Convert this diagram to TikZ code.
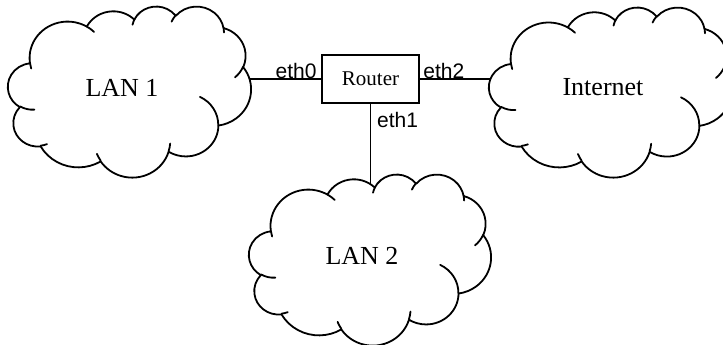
\documentclass[tikz,border=0pt]{standalone}
\usepackage{tikz}
\usepackage{fontspec}
\setmainfont{Liberation Serif}
\newfontfamily\arialf{Liberation Sans}

% convert DrawingML visual angles (y down) to parametric angles
\newcommand\prepArc[5]{%
  \pgfmathsetmacro\tmpa{atan2(#2*sin(#4),#3*cos(#4))}%
  \pgfmathsetmacro\tmpb{atan2(#2*sin(#4+#5),#3*cos(#4+#5))}%
  \pgfmathsetmacro\tmpd{mod(\tmpb-(\tmpa)+720,360)}%
  \expandafter\xdef\csname arcS#1\endcsname{\tmpa}%
  \expandafter\xdef\csname arcD#1\endcsname{\tmpd}%
}
\prepArc{A}{6.753}{9.190}{-190.48748}{123.78053}
\prepArc{B}{5.333}{7.267}{-144.10238}{89.94523}
\prepArc{C}{4.365}{5.945}{-145.80792}{99.72302}
\prepArc{D}{4.857}{6.595}{-130.98607}{117.24173}
\prepArc{E}{5.333}{7.273}{-78.70888}{109.02692}
\prepArc{F}{6.775}{9.220}{-46.26725}{130.26900}
\prepArc{G}{5.785}{7.867}{0.62502}{114.03333}
\prepArc{H}{6.752}{9.215}{22.45160}{115.17255}
\prepArc{I}{7.720}{10.543}{66.24263}{75.71102}
\prepArc{J}{4.360}{5.918}{-274.94208}{146.73557}
\prepArc{K}{4.345}{5.945}{-246.82850}{152.51885}
\prepArc{a}{4.345}{5.945}{86.74200}{26.42950}
\prepArc{b}{4.360}{5.918}{73.61047}{11.44747}
\prepArc{c}{6.752}{9.215}{137.62415}{14.08110}
\prepArc{d}{6.752}{9.215}{6.45327}{15.99835}
\prepArc{e}{5.785}{7.867}{-70.29235}{70.91737}
\prepArc{f}{5.333}{7.273}{30.31803}{27.75150}
\prepArc{g}{4.857}{6.595}{-13.74433}{14.85890}
\prepArc{h}{4.857}{6.595}{-149.18145}{18.19537}
\prepArc{i}{4.365}{5.945}{-163.49427}{17.68635}
\prepArc{j}{6.753}{9.190}{-66.70695}{12.31935}
\prepArc{k}{6.753}{9.190}{157.65435}{11.85817}

\tikzset{
  cloudline/.style={line width=1.8pt, line join=round, line cap=round},
  conn/.style={line width=1.8pt},
  routerbox/.style={draw, line width=1.8pt, minimum width=97pt, minimum height=48pt,
    inner sep=0pt, font=\fontsize{21}{21}\selectfont},
  ethlabel/.style={inner sep=0pt, font=\arialf\fontsize{21}{21}\selectfont},
  cloudlabel/.style={inner sep=0pt, font=\fontsize{26}{26}\selectfont},
}

% #1 left, #2 top (image coords, y down), #3 width, #4 height
\newcommand\drawcloud[4]{%
  \begin{scope}[shift={(#1,-#2)}, xscale=#3/43.2, yscale=-#4/43.2]
    \filldraw[cloudline, fill=white]
      (3.9,14.37)
      arc[start angle=\arcSA, delta angle=\arcDA, x radius=6.753pt, y radius=9.19pt]
      arc[start angle=\arcSB, delta angle=\arcDB, x radius=5.333pt, y radius=7.267pt]
      arc[start angle=\arcSC, delta angle=\arcDC, x radius=4.365pt, y radius=5.945pt]
      arc[start angle=\arcSD, delta angle=\arcDD, x radius=4.857pt, y radius=6.595pt]
      arc[start angle=\arcSE, delta angle=\arcDE, x radius=5.333pt, y radius=7.273pt]
      arc[start angle=\arcSF, delta angle=\arcDF, x radius=6.775pt, y radius=9.22pt]
      arc[start angle=\arcSG, delta angle=\arcDG, x radius=5.785pt, y radius=7.867pt]
      arc[start angle=\arcSH, delta angle=\arcDH, x radius=6.752pt, y radius=9.215pt]
      arc[start angle=\arcSI, delta angle=\arcDI, x radius=7.72pt, y radius=10.543pt]
      arc[start angle=\arcSJ, delta angle=\arcDJ, x radius=4.36pt, y radius=5.918pt]
      arc[start angle=\arcSK, delta angle=\arcDK, x radius=4.345pt, y radius=5.945pt]
      -- cycle;
    \draw[cloudline]
      (4.693,26.177) arc[start angle=\arcSa, delta angle=\arcDa, x radius=4.345pt, y radius=5.945pt]
      (6.928,34.899) arc[start angle=\arcSb, delta angle=\arcDb, x radius=4.36pt, y radius=5.918pt]
      (16.478,39.09) arc[start angle=\arcSc, delta angle=\arcDc, x radius=6.752pt, y radius=9.215pt]
      (28.827,34.751) arc[start angle=\arcSd, delta angle=\arcDd, x radius=6.752pt, y radius=9.215pt]
      (34.129,22.954) arc[start angle=\arcSe, delta angle=\arcDe, x radius=5.785pt, y radius=7.867pt]
      (41.798,15.354) arc[start angle=\arcSf, delta angle=\arcDf, x radius=5.333pt, y radius=7.273pt]
      (38.324,5.426) arc[start angle=\arcSg, delta angle=\arcDg, x radius=4.857pt, y radius=6.595pt]
      (29.078,3.952) arc[start angle=\arcSh, delta angle=\arcDh, x radius=4.857pt, y radius=6.595pt]
      (22.141,4.72) arc[start angle=\arcSi, delta angle=\arcDi, x radius=4.365pt, y radius=5.945pt]
      (14.0,5.192) arc[start angle=\arcSj, delta angle=\arcDj, x radius=6.753pt, y radius=9.19pt]
      (4.127,15.789) arc[start angle=\arcSk, delta angle=\arcDk, x radius=6.753pt, y radius=9.19pt];
  \end{scope}}

\begin{document}
\begin{tikzpicture}[x=1pt,y=1pt]
\useasboundingbox (0,0) rectangle (723,-345);
\node[routerbox] (router) at (370.5,-79) {Router};
\coordinate (lan1c) at (129.5,-91.5);
\coordinate (inetc) at (610,-92);
\coordinate (lan2c) at (370,-259.5);
\draw[conn] (router.west) -- (router.west -| lan1c);
\draw[conn] (router.east) -- (router.east -| inetc);
\draw[conn] (router.south) -- (router.south |- lan2c);
\drawcloud{8}{6}{243}{171}
\drawcloud{489}{7}{243}{170}
\drawcloud{249}{174}{242}{171}
\node[cloudlabel] (lan1) at (122,-88) {LAN 1};
\node[cloudlabel] (inet) at (603,-87.5) {Internet};
\node[cloudlabel] (lan2) at (362,-256) {LAN 2};
\node[ethlabel, anchor=base east] (eth0) at ([shift={(-4.3,1)}]router.west) {eth0};
\node[ethlabel, anchor=base west] (eth2) at ([shift={(3.3,1)}]router.east) {eth2};
\node[ethlabel, anchor=base west] (eth1) at ([shift={(6.5,-23.3)}]router.south) {eth1};
\end{tikzpicture}
\end{document}
